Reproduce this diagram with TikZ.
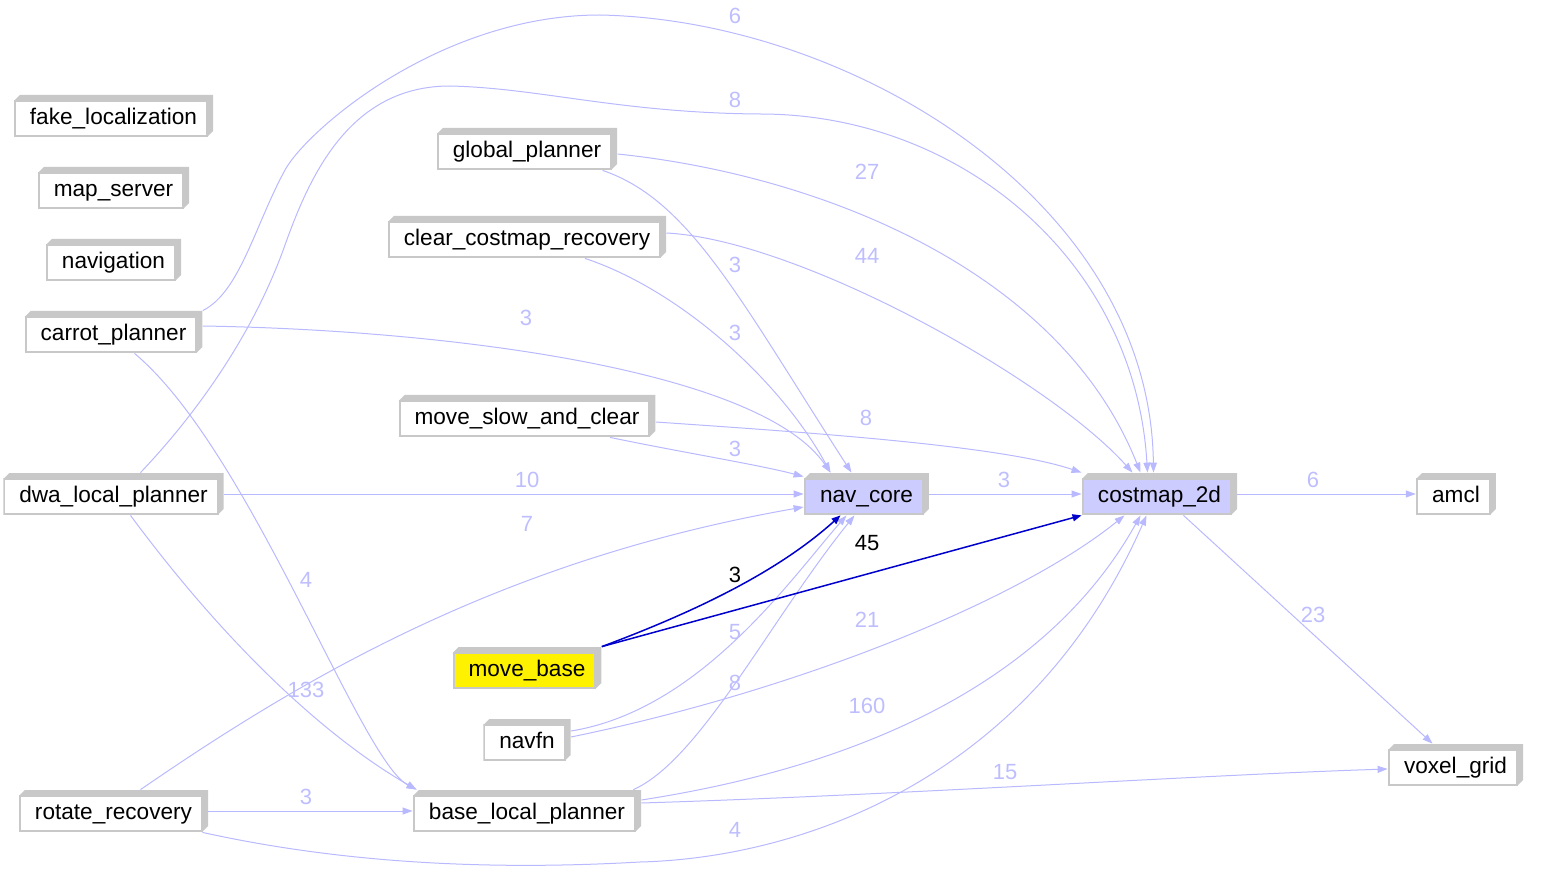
\documentclass[tikz,border=0pt]{standalone}
\usepackage{fontspec}
\setmainfont{Liberation Sans}
\usetikzlibrary{arrows.meta,calc}
\definecolor{edgec}{RGB}{185,185,255}
\definecolor{labc}{RGB}{190,190,255}
\definecolor{boxgray}{RGB}{200,200,200}
\definecolor{corefill}{RGB}{204,204,255}
\definecolor{hiblue}{RGB}{0,0,204}
\pgfdeclarelayer{background}
\pgfsetlayers{background,main}
\tikzset{
 pkg/.style={draw=none, minimum height=21pt, inner xsep=8pt, inner ysep=0pt, text=black,
  text height=10.5pt, text depth=1.6pt,
  font=\fontsize{11.3}{13}\selectfont,
  path picture={
   \fill[boxgray] let \p1=(path picture bounding box.north west), \p2=(path picture bounding box.south east) in
     (\x1,\y1-3pt) -- (\x1+3pt,\y1) -- (\x2,\y1) -- (\x2,\y2+3pt) -- (\x2-3pt,\y2) -- (\x2-3pt,\y1-3pt) -- cycle;
   \filldraw[fill=#1, draw=boxgray, line width=1pt] let \p1=(path picture bounding box.north west), \p2=(path picture bounding box.south east) in
     (\x1+0.5pt,\y1-3pt) rectangle (\x2-3pt,\y2+0.5pt);
  }},
 pkg/.default=white,
 dep/.style={draw=edgec, line width=0.5pt, -{Triangle[length=5pt,width=3.5pt]}},
 hot/.style={draw=hiblue, line width=0.75pt, -{Triangle[length=4.5pt,width=3.5pt]}},
 lab/.style={text=labc, font=\fontsize{11}{13}\selectfont, inner sep=0pt},
 hotlab/.style={text=black, font=\fontsize{11}{13}\selectfont, inner sep=0pt},
}
\begin{document}
\begin{tikzpicture}[x=0.5pt,y=-0.5pt]
\useasboundingbox (0,0) rectangle (1543,877);
% nodes
\node[pkg] (fake_localization) at (113.5,116) {fake\_localization};
\node[pkg] (map_server) at (113.5,188) {map\_server};
\node[pkg] (navigation) at (113.5,260) {navigation};
\node[pkg] (carrot_planner) at (113.5,332) {carrot\_planner};
\node[pkg] (dwa_local_planner) at (113.5,494) {dwa\_local\_planner};
\node[pkg] (rotate_recovery) at (113.5,811) {rotate\_recovery};
\node[pkg] (global_planner) at (527,149) {global\_planner};
\node[pkg] (clear_costmap_recovery) at (527,237) {clear\_costmap\_recovery};
\node[pkg] (move_slow_and_clear) at (527,416) {move\_slow\_and\_clear};
\node[pkg=yellow] (move_base) at (527,668) {move\_base};
\node[pkg] (navfn) at (527,740) {navfn};
\node[pkg] (base_local_planner) at (527,811) {base\_local\_planner};
\node[pkg=corefill] (nav_core) at (866.5,494) {nav\_core};
\node[pkg=corefill] (costmap_2d) at (1159.5,494) {costmap\_2d};
\node[pkg] (amcl) at (1456,494) {amcl};
\node[pkg] (voxel_grid) at (1455.5,765) {voxel\_grid};

\begin{pgfonlayer}{background}
% carrot_planner
\draw[dep] (carrot_planner.north east) .. controls (240,292) and (255,225) .. (285,170)
  .. controls (307,130) and (440,15) .. (600,15)
  .. controls (850,20) and (1150,200) .. ($(costmap_2d.north)+(-6,0)$);
\draw[dep] ($(carrot_planner.east)+(0,-6)$) .. controls (450,330) and (760,370) .. ($(nav_core.north)+(-36,0)$);
\draw[dep] ($(carrot_planner.south)+(21,0)$) .. controls (250,450) and (360,760) .. ($(base_local_planner.north west)+(4,0)$);
% dwa_local_planner
\draw[dep] ($(dwa_local_planner.north)+(27,0)$) .. controls (200,410) and (255,330) .. (285,245)
  .. controls (310,175) and (350,86) .. (450,86)
  .. controls (540,88) and (620,113) .. (760,114)
  .. controls (960,114) and (1135,260) .. ($(costmap_2d.north)+(-12,0)$);
\draw[dep] (dwa_local_planner.east) -- (nav_core.west);
\draw[dep] ($(dwa_local_planner.south)+(17,0)$) .. controls (230,650) and (330,740) .. ($(base_local_planner.north west)+(4,0)$);
% rotate_recovery
\draw[dep] ($(rotate_recovery.north)+(27,0)$) .. controls (300,680) and (500,560) .. ($(nav_core.west)+(0,13)$);
\draw[dep] (rotate_recovery.east) -- (base_local_planner.west);
\draw[dep] ($(rotate_recovery.south east)+(-6,0)$) .. controls (350,865) and (500,870) .. (640,862)
  .. controls (800,858) and (1030,780) .. ($(costmap_2d.south)+(-13,0)$);
% global_planner
\draw[dep] ($(global_planner.east)+(0,5)$) .. controls (820,175) and (1060,270) .. ($(costmap_2d.north)+(-19,0)$);
\draw[dep] ($(global_planner.south east)+(-15,0)$) .. controls (690,200) and (740,300) .. ($(nav_core.north)+(-15,0)$);
% clear_costmap_recovery
\draw[dep] ($(clear_costmap_recovery.east)+(0,-4)$) .. controls (800,240) and (1050,380) .. ($(costmap_2d.north)+(-27,0)$);
\draw[dep] ($(clear_costmap_recovery.south)+(58,0)$) .. controls (680,290) and (780,380) .. ($(nav_core.north)+(-36,0)$);
% move_slow_and_clear
\draw[dep] ($(move_slow_and_clear.east)+(0,6)$) .. controls (800,432) and (1000,445) .. (costmap_2d.north west);
\draw[dep] ($(move_slow_and_clear.south)+(83,0)$) .. controls (680,452) and (760,465) .. ($(nav_core.north west)+(0,4)$);
% nav_core, costmap_2d
\draw[dep] (nav_core.east) -- (costmap_2d.west);
\draw[dep] (costmap_2d.east) -- (amcl.west);
\draw[dep] ($(costmap_2d.south)+(24,0)$) -- ($(voxel_grid.north)+(-23,0)$);
% navfn
\draw[dep] ($(navfn.east)+(0,-9)$) .. controls (700,710) and (790,580) .. ($(nav_core.south)+(-20,0)$);
\draw[dep] ($(navfn.east)+(0,-3)$) .. controls (800,690) and (1020,600) .. ($(costmap_2d.south)+(-35,0)$);
% base_local_planner
\draw[dep] ($(base_local_planner.north east)+(-8,0)$) .. controls (700,760) and (770,620) .. ($(nav_core.south)+(-12,0)$);
\draw[dep] ($(base_local_planner.east)+(0,-11)$) .. controls (900,760) and (1060,660) .. ($(costmap_2d.south)+(-19,0)$);
\draw[dep] ($(base_local_planner.east)+(0,-8)$) .. controls (900,795) and (1200,775) .. ($(voxel_grid.west)+(0,4)$);
% move_base
\draw[hot] (move_base.north east) .. controls (700,610) and (780,570) .. ($(nav_core.south)+(-26,0)$);
\draw[hot] (move_base.north east) -- (costmap_2d.south west);
\end{pgfonlayer}

% labels
\node[lab] (l1) at (735,16) {6};
\node[lab] (l2) at (735,100) {8};
\node[lab] (l3) at (867,172) {27};
\node[lab] (l4) at (867,256) {44};
\node[lab] (l5) at (735,265) {3};
\node[lab] (l6) at (735,333) {3};
\node[lab] (l7) at (526,318) {3};
\node[lab] (l8) at (866,418) {8};
\node[lab] (l9) at (735,449) {3};
\node[lab] (l10) at (527,480) {10};
\node[lab] (l11) at (1004,480) {3};
\node[lab] (l12) at (1313,480) {6};
\node[lab] (l13) at (527,524) {7};
\node[hotlab] (l14) at (867,543) {45};
\node[hotlab] (l15) at (735,575) {3};
\node[lab] (l16) at (306,580) {4};
\node[lab] (l17) at (1313,615) {23};
\node[lab] (l18) at (867,620) {21};
\node[lab] (l19) at (735,632) {5};
\node[lab] (l20) at (735,683) {8};
\node[lab] (l21) at (306,690) {133};
\node[lab] (l22) at (867,706) {160};
\node[lab] (l23) at (1005,772) {15};
\node[lab] (l24) at (306,797) {3};
\node[lab] (l25) at (735,830) {4};
\end{tikzpicture}
\end{document}
